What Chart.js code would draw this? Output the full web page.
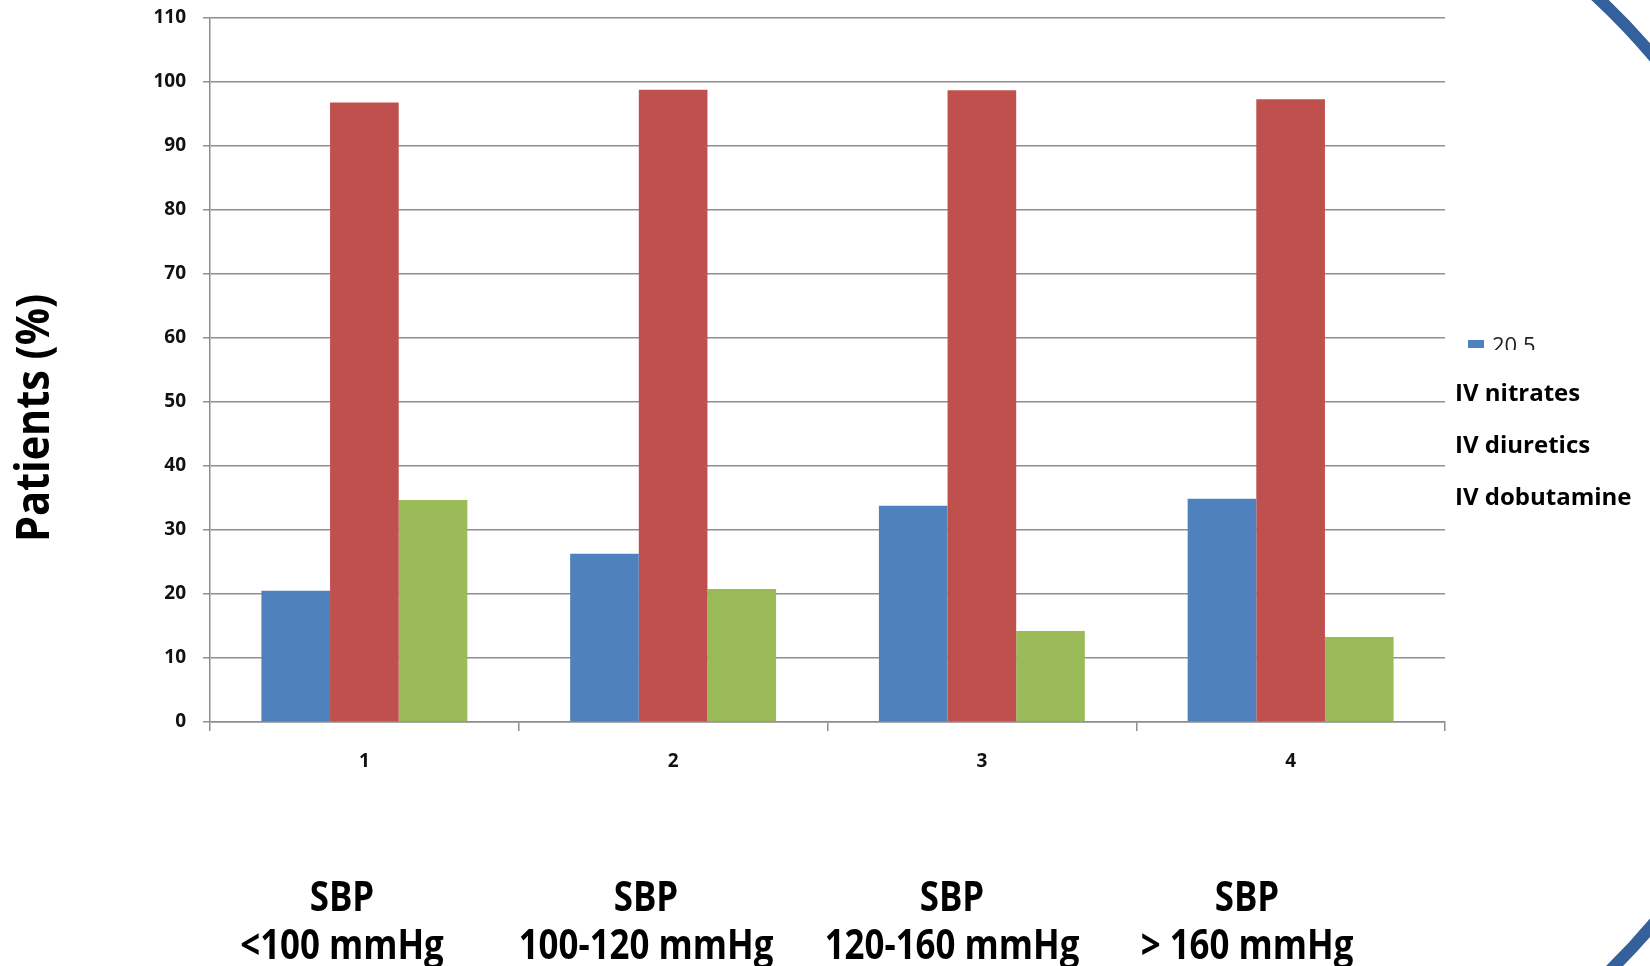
<!DOCTYPE html>
<html>
  <head>
    <meta charset='utf-8'>
    <title>IV therapy by SBP</title>
    <style>
      html, body { margin: 0; padding: 0; background: #fff; }
    </style>
    <script src='https://cdn.jsdelivr.net/npm/chart.js@4.4.1/dist/chart.umd.min.js'></script>
  </head>
  <body>
    <canvas id='bars' width='1650' height='966'></canvas>

    <script>
    // data
    var categories = ['1', '2', '3', '4'];
    var groupLabels = [
      ['SBP', '<100 mmHg'], ['SBP', '100-120 mmHg'],
      ['SBP', '120-160 mmHg'], ['SBP', '> 160 mmHg']
    ];
    var nitrates = [20.5, 26.3, 33.8, 34.9];
    var diuretics = [96.8, 98.8, 98.7, 97.3];
    var dobutamine = [34.7, 20.8, 14.2, 13.3];
    var seriesNames = ['IV nitrates', 'IV diuretics', 'IV dobutamine'];
    var legendStub = '20.5';
    var yMin = 0, yMax = 110, yStep = 10;

    var colors = ['#4f81bd', '#c0504d', '#9bbb59'];
    var gridGray = '#8e8e8e';

    var slideText = {
      id: 'slideText',
      afterDraw: function (chart) {
        var ctx = chart.ctx;
        ctx.save();

        // blue ring of the slide template
        ctx.beginPath();
        ctx.arc(1140, 490, 672, -1.0, 1.0);
        ctx.strokeStyle = '#34609c';
        ctx.lineWidth = 12;
        ctx.stroke();

        ctx.fillStyle = '#000';

        // y title
        ctx.save();
        ctx.translate(36, 418);
        ctx.rotate(-Math.PI / 2);
        ctx.scale(0.9, 1);
        ctx.font = 'bold 46px "Open Sans"';
        ctx.textAlign = 'center';
        ctx.textBaseline = 'middle';
        ctx.fillText('Patients (%)', 0, 0);
        ctx.restore();

        // group labels under the axis
        var labelX = [342, 646, 952, 1247];
        ctx.font = 'bold 42px "Open Sans"';
        ctx.textAlign = 'center';
        ctx.textBaseline = 'middle';
        groupLabels.forEach(function (lines, i) {
          lines.forEach(function (line, j) {
            ctx.save();
            ctx.translate(labelX[i], 899 + j * 48);
            ctx.scale(0.83, 1);
            ctx.fillText(line, 0, 0);
            ctx.restore();
          });
        });

        // cut-off legend
        ctx.fillStyle = colors[0];
        ctx.fillRect(1468, 340, 16, 8);
        ctx.save();
        ctx.beginPath();
        ctx.rect(1485, 330, 80, 20);
        ctx.clip();
        ctx.fillStyle = '#222';
        ctx.font = '22px "Open Sans"';
        ctx.textAlign = 'left';
        ctx.textBaseline = 'top';
        ctx.fillText(legendStub, 1492, 336);
        ctx.restore();

        ctx.fillStyle = '#000';
        ctx.font = 'bold 24px "Open Sans"';
        ctx.textAlign = 'left';
        ctx.textBaseline = 'middle';
        var legendY = [394, 446, 498];
        seriesNames.forEach(function (name, i) {
          ctx.fillText(name, 1455, legendY[i]);
        });

        ctx.restore();
      }
    };

    var chart = new Chart(document.getElementById('bars').getContext('2d'), {
      type: 'bar',
      data: {
        labels: categories,
        datasets: [
          { label: seriesNames[0], data: nitrates, backgroundColor: colors[0] },
          { label: seriesNames[1], data: diuretics, backgroundColor: colors[1] },
          { label: seriesNames[2], data: dobutamine, backgroundColor: colors[2] }
        ]
      },
      options: {
        responsive: false,
        animation: false,
        categoryPercentage: 0.667,
        barPercentage: 1.0,
        layout: { padding: { top: 18, right: 205, left: 0, bottom: 0 } },
        plugins: {
          legend: { display: false },
          tooltip: { enabled: false }
        },
        scales: {
          x: {
            afterFit: function (scale) { scale.height = 244; },
            grid: {
              offset: true,
              drawOnChartArea: false,
              tickLength: 9,
              color: gridGray,
              lineWidth: 1.5
            },
            border: { color: gridGray, width: 1.5 },
            ticks: {
              padding: 19,
              color: '#111',
              font: { family: 'Open Sans', size: 19, weight: 'bold' }
            }
          },
          y: {
            min: yMin,
            max: yMax,
            afterFit: function (scale) {
              scale.width = 210;
              scale.paddingTop = 0;
              scale.paddingBottom = 0;
            },
            grid: { color: gridGray, lineWidth: 1.5, tickLength: 7 },
            border: { color: gridGray, width: 1.5 },
            ticks: {
              stepSize: yStep,
              padding: 17,
              color: '#111',
              font: { family: 'Open Sans', size: 19, weight: 'bold' }
            }
          }
        }
      },
      plugins: [slideText]
    });
    </script>
  </body>
</html>
